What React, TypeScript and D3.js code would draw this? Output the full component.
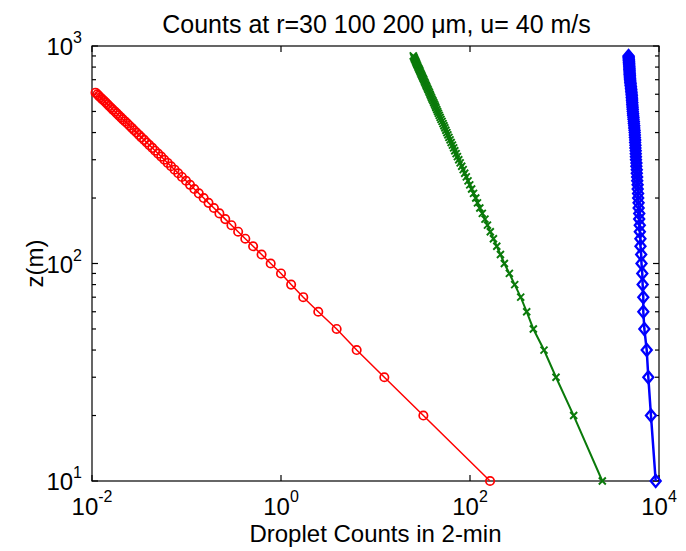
import React, { useEffect, useRef } from 'react';
import * as d3 from 'd3';

const WIDTH = 686;
const HEIGHT = 551;

const TITLE = 'Counts at r=30 100 200 \u03bcm, u= 40 m/s';
const X_LABEL = 'Droplet Counts in 2-min';
const Y_LABEL = 'z(m)';

// heights (m), every 10 m
const HEIGHTS = [
  10, 20, 30, 40, 50, 60, 70, 80, 90, 100,
  110, 120, 130, 140, 150, 160, 170, 180, 190, 200,
  210, 220, 230, 240, 250, 260, 270, 280, 290, 300,
  310, 320, 330, 340, 350, 360, 370, 380, 390, 400,
  410, 420, 430, 440, 450, 460, 470, 480, 490, 500,
  510, 520, 530, 540, 550, 560, 570, 580, 590, 600,
  610, 620, 630, 640, 650, 660, 670, 680, 690, 700,
  710, 720, 730, 740, 750, 760, 770, 780, 790, 800,
  810, 820, 830, 840, 850, 860, 870, 880, 890, 900,
];

// r = 30 um (red circles), up to 610 m
const COUNTS_R30 = [
  163, 32.1, 12.4, 6.32, 3.88, 2.48, 1.72, 1.28, 1.0, 0.778,
  0.623, 0.507, 0.419, 0.352, 0.299, 0.257, 0.223, 0.195, 0.171, 0.152,
  0.135, 0.121, 0.109, 0.0988, 0.0895, 0.0817, 0.0748, 0.0687, 0.0632, 0.0583,
  0.0541, 0.0501, 0.0465, 0.0435, 0.0405, 0.0379, 0.0356, 0.0333, 0.0314, 0.0296,
  0.0279, 0.0264, 0.025, 0.0237, 0.0224, 0.0212, 0.0202, 0.0192, 0.0183, 0.0175,
  0.0166, 0.0159, 0.0152, 0.0146, 0.014, 0.0134, 0.0128, 0.0123, 0.0118, 0.0114,
  0.0109,
];

// r = 100 um (green crosses)
const COUNTS_R100 = [
  2512, 1250, 813, 607, 468, 398, 344, 297, 261, 231,
  210, 192, 177, 164, 153, 144, 135, 127, 120, 115,
  109, 104, 99.4, 95.3, 91.4, 87.9, 84.7, 81.7, 78.7, 76.0,
  73.6, 71.3, 69.0, 67.1, 65.2, 63.2, 61.5, 59.8, 58.3, 56.9,
  55.5, 54.2, 53.0, 51.8, 50.6, 49.3, 48.3, 47.3, 46.3, 45.4,
  44.5, 43.6, 42.9, 42.1, 41.3, 40.6, 39.7, 39.1, 38.4, 37.8,
  37.2, 36.6, 36.0, 35.4, 34.8, 34.3, 33.8, 33.3, 32.8, 32.4,
  31.9, 31.4, 31.0, 30.5, 30.1, 29.7, 29.4, 29.0, 28.6, 28.2,
  27.9, 27.5, 27.2, 26.9, 26.6, 26.3, 25.9, 25.7, 25.4, 25.1,
];

// r = 200 um (blue diamonds)
const COUNTS_R200 = [
  9226, 8222, 7709, 7413, 6998, 6823, 6823, 6714, 6653, 6531,
  6480, 6370, 6360, 6270, 6260, 6170, 6180, 6090, 6080, 6020,
  6010, 5950, 5940, 5880, 5870, 5820, 5820, 5760, 5770, 5710,
  5700, 5680, 5670, 5630, 5630, 5590, 5600, 5560, 5550, 5530,
  5510, 5470, 5470, 5420, 5420, 5370, 5370, 5320, 5320, 5280,
  5270, 5250, 5240, 5210, 5220, 5180, 5190, 5150, 5160, 5130,
  5120, 5090, 5090, 5050, 5050, 5000, 5010, 4970, 4970, 4940,
  4940, 4910, 4920, 4890, 4900, 4880, 4880, 4860, 4870, 4850,
  4850, 4830, 4830, 4810, 4820, 4790, 4800, 4770, 4780, 4760,
];

const X_TICKS = [1e-2, 1e0, 1e2, 1e4];
const X_EXPONENTS = ['-2', '0', '2', '4'];
const Y_TICKS = [1e1, 1e2, 1e3];
const Y_EXPONENTS = ['1', '2', '3'];
const Y_MINOR = [20, 30, 40, 50, 60, 70, 80, 90, 200, 300, 400, 500, 600, 700, 800, 900];

const FONT = '"Liberation Sans", Arial, Helvetica, sans-serif';

const App = () => {
  const svgRef = useRef<SVGSVGElement>(null);

  useEffect(() => {
    const svg = d3.select(svgRef.current);
    svg.selectAll('*').remove();

    const margin = { top: 46, right: 27, bottom: 70, left: 92 };
    const innerWidth = WIDTH - margin.left - margin.right;
    const innerHeight = HEIGHT - margin.top - margin.bottom;

    svg.append('rect').attr('width', WIDTH).attr('height', HEIGHT).attr('fill', '#fff');

    const x = d3.scaleLog().domain([1e-2, 1e4]).range([0, innerWidth]);
    const y = d3.scaleLog().domain([1e1, 1e3]).range([innerHeight, 0]);

    const g = svg.append('g').attr('transform', `translate(${margin.left},${margin.top})`);

    // Box
    g.append('rect')
      .attr('width', innerWidth)
      .attr('height', innerHeight)
      .attr('fill', 'none')
      .attr('stroke', '#000')
      .attr('stroke-width', 1.2);

    // X ticks (bottom + top)
    X_TICKS.forEach(t => {
      const px = x(t);
      g.append('line').attr('x1', px).attr('x2', px).attr('y1', innerHeight).attr('y2', innerHeight - 6)
        .attr('stroke', '#000').attr('stroke-width', 1.2);
      g.append('line').attr('x1', px).attr('x2', px).attr('y1', 0).attr('y2', 6)
        .attr('stroke', '#000').attr('stroke-width', 1.2);
    });

    // Y ticks (left + right), major and minor
    const yTick = (v, len) => {
      const py = y(v);
      g.append('line').attr('x1', 0).attr('x2', len).attr('y1', py).attr('y2', py)
        .attr('stroke', '#000').attr('stroke-width', 1.2);
      g.append('line').attr('x1', innerWidth).attr('x2', innerWidth - len).attr('y1', py).attr('y2', py)
        .attr('stroke', '#000').attr('stroke-width', 1.2);
    };
    Y_TICKS.forEach(t => yTick(t, 6));
    Y_MINOR.forEach(t => yTick(t, 4));

    // X tick labels
    X_TICKS.forEach((t, i) => {
      const label = svg.append('text')
        .attr('x', margin.left + x(t))
        .attr('y', 515)
        .attr('text-anchor', 'middle')
        .style('font-family', FONT)
        .style('font-size', '24px');
      label.append('tspan').text('10');
      label.append('tspan').attr('dy', -13).style('font-size', '16px').text(X_EXPONENTS[i]);
    });

    // Y tick labels
    Y_TICKS.forEach((t, i) => {
      const label = svg.append('text')
        .attr('x', 82)
        .attr('y', margin.top + y(t) + 9)
        .attr('text-anchor', 'end')
        .style('font-family', FONT)
        .style('font-size', '24px');
      label.append('tspan').text('10');
      label.append('tspan').attr('dy', -12).style('font-size', '16px').text(Y_EXPONENTS[i]);
    });

    // Series
    const series = [
      { values: COUNTS_R30, color: '#ff0000', lineWidth: 1.5, marker: 'circle' },
      { values: COUNTS_R100, color: '#0a7a0a', lineWidth: 2, marker: 'x' },
      { values: COUNTS_R200, color: '#0000ff', lineWidth: 2.5, marker: 'diamond' },
    ];

    const line = d3.line<[number, number]>()
      .x(d => x(d[0]))
      .y(d => y(d[1]));

    series.forEach(s => {
      const pts: [number, number][] = s.values.map((v, i) => [v, HEIGHTS[i]]);
      g.append('path')
        .datum(pts)
        .attr('d', line)
        .attr('fill', 'none')
        .attr('stroke', s.color)
        .attr('stroke-width', s.lineWidth);

      const markers = g.append('g');
      pts.forEach(p => {
        const cx = x(p[0]);
        const cy = y(p[1]);
        if (s.marker === 'circle') {
          markers.append('circle').attr('cx', cx).attr('cy', cy).attr('r', 4.2)
            .attr('fill', 'none').attr('stroke', s.color).attr('stroke-width', 1.7);
        } else if (s.marker === 'x') {
          markers.append('path')
            .attr('d', `M${cx - 3.5},${cy - 3.5}L${cx + 3.5},${cy + 3.5}M${cx - 3.5},${cy + 3.5}L${cx + 3.5},${cy - 3.5}`)
            .attr('stroke', s.color).attr('stroke-width', 1.9).attr('fill', 'none');
        } else {
          markers.append('path')
            .attr('d', `M${cx},${cy - 6}L${cx + 5},${cy}L${cx},${cy + 6}L${cx - 5},${cy}Z`)
            .attr('stroke', s.color).attr('stroke-width', 2.3).attr('fill', 'none');
        }
      });
    });

    // Title
    svg.append('text')
      .attr('x', margin.left + innerWidth / 2 + 1)
      .attr('y', 33)
      .attr('text-anchor', 'middle')
      .style('font-family', FONT)
      .style('font-size', '25px')
      .text(TITLE);

    // X axis label
    svg.append('text')
      .attr('x', margin.left + innerWidth / 2)
      .attr('y', 542)
      .attr('text-anchor', 'middle')
      .style('font-family', FONT)
      .style('font-size', '24px')
      .text(X_LABEL);

    // Y axis label
    svg.append('text')
      .attr('transform', 'rotate(-90)')
      .attr('x', -(margin.top + innerHeight / 2))
      .attr('y', 43)
      .attr('text-anchor', 'middle')
      .style('font-family', FONT)
      .style('font-size', '24px')
      .text(Y_LABEL);
  }, []);

  return (
    <svg
      ref={svgRef}
      width={WIDTH}
      height={HEIGHT}
      style={{ position: 'absolute', left: 0, top: 0, background: '#fff' }}
    />
  );
};

export default App;
